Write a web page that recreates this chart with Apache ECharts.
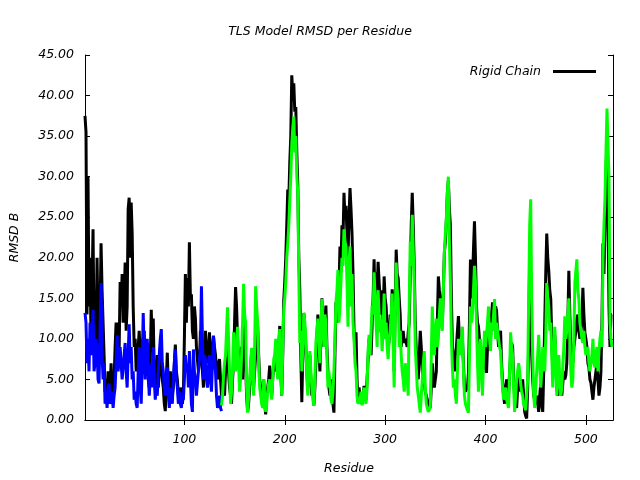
<!DOCTYPE html>
<html>
<head>
<meta charset="utf-8">
<script src="https://cdn.jsdelivr.net/npm/echarts@6/dist/echarts.min.js"></script>
<style>html,body{margin:0;padding:0;background:#fff}#c{width:640px;height:480px}</style>
</head>
<body>
<div id="c"></div>
<script>
// One value per residue
var blackStart = 1, blueStart = 1, greenStart = 137;
var xTicks = [100, 200, 300, 400, 500];

var rigidChain = [
37.5,35.5,13,30,14,20,10,16,23.5,11,
14,9,20,12,7,13,21.8,16,12,8,
3.5,5,2,6,3,4,7,2.5,3,5,
9,12,10,12,8.5,17,14,18,12,15,
19.4,11,14,26,27.4,20,26.8,23,14,9,
10,6,7,9,11,8,5,10,9.5,11,
6,9,9.5,5,4,7,13.6,9,12.5,6,
5,3,8,4,6,9,9,5,4,2,
1.1,5,8.3,4,3,6,6,3,4,7,
9.3,6,5,3,2,4,4,2,3,10,
18,12,17.5,14,21.9,15,15.5,11,10,14,
12.5,9,9,6,7,11,10.5,6,4,8,
11,8,7,9,10.8,8,6.7,9,10.3,9,
8,6,5,7,7.5,5,3,
5,4,3,6,8,9,6,4,3,2,
5,7,12,16.4,14,10,7,6,8,9,
5,12,10,7,3,1,2,4,6,8.5,
5,4,6,8,10,11.6,8,5,4,3,
2,5,2,0.7,3,4,5,6.7,4,3,
5,7,6,9,8,6,9,11.6,6,3,
8,14.7,17,20,24,28.4,27,31.7,35,42.5,
40,41.5,38,38.6,33,29,20,16,8,2.2,
8,13.2,11,9,6,4,7,8,5,3,
4,1.8,4,7,10,13,9,6,10,15,
11,9,12,14.1,9,6,4,3,3,5,
2,0.9,8,14.5,12,17.3,16,21.4,19,24,
22,28,25,26.4,23,20,25,28.6,26,23,
18,11,8,10.8,5,2.2,4,3,2.5,2,
3,4.2,3.5,2.5,5,7.5,10,9,8,11.6,
15,19.8,14,18.2,16,19.5,17,15,13,16,
12,17.7,15,14,11,8.5,10,13,11,16.1,
12,6,14,21,18,17.5,15,13,9,10.5,
11,9.5,10,10.2,9,10.8,12,18,24,28,
24,19,12,8.5,7,5,8,11,9,6,
5,4.5,3.5,3,2.5,2,2,1.5,4,7,
5,4,5,6,12,17.7,16,15,13,12,
16,20.6,22,24.5,28,29.5,26,24,15,9.3,
7,6,8,9,11,12.8,10,9.3,9,10,
7,4,3.5,3.3,4,5.8,12,19.8,15,17,
21,24.5,20,14,12,11.5,10,8.5,7,5.5,
7,9,8,5.8,9,12,11,10,13,14.5,
13,12,14,13.5,11,9,10,11,7,4.6,
3,2,4,5,3.5,3,6,8,9.5,9,
5,3,2,1.5,4,6,5,3.5,4,5,
3,1,0.5,0.2,4,9,20,13,8,5,
3,2.5,2,3,2,1,3,4.5,2,1,
6,12,18,23,20,18.4,16,14.9,10,6,
8,10.5,7,4,3,3.5,4,5,3,4.5,
6,5,5.5,7,12,18.4,13,9,8,7,
9,10,11,12.5,13,11,10,10,12,16.3,
13,10.8,10,9,7,6.5,5,4.6,3.5,2.5,
4,5,6,7,5,3,4,6,12,21.8,
18,23.9,30,35,25,14,9,13,13
];

var blueSegment = [
13.2,12,7,10,6,12,8,9,13.6,6,
7,10,9,5,4.5,11,16.9,8,5,7,
2,3,1.5,4,4.5,2,2.5,3.5,1.5,3,
4,7,10.4,6,6,9,9,5,5,8,
9.5,6,4,8,11.8,7,9,5,6,2.5,
3.5,2,1.5,6,9,4,2,7,13.2,8,
5,8,10,6,3,5,7,4,9,5,
2.5,4,3,6,8,10,11.2,7,6,4,
3,5,6.5,3,1.5,4,3,2,5,7,
8.7,5,4,2,3.5,2,1.5,3,2.5,5,
8,6,7,4,8.5,5,2,1,8.7,6,
5,3,3,6,6,9,16.5,10,5,8,
7.5,5,4,6,8,5,3.5,7,10.4,8,
6,3,1.5,2,3,1.5,1.1
];

var greenSegment = [
1.8,3,5.5,7,8,11,13.9,10,6,2,
3.5,6,10.8,8,6,9,11.5,7,3.5,5,
8,12,16.8,13,12,4,0.9,3,5,7,
8.9,5,3,9,16.5,14,12,7,4,3,
2,1.5,5,3,1,2,3.5,4.5,5,4,
2.5,5,7.5,8,10,7,5,9,11.2,6,
3,9,13.5,15,17,20,21.8,24,27,30,
34,36,37.4,33,35,30,28,18,9.5,11,
6,9,13.2,12,10,5,3,6,8.5,6,
4,2.5,1.8,5,9.5,11,12.5,10,7,11,
14.9,12,9,13,12,8,4,6,4.5,2.5,
2,3.5,6,10,14.5,16,18.5,12,14,17,
20,19,23.5,22,21.4,17,11.5,19,21.4,14,
18,12,10,7,6,3,2,2,2.5,3.5,
1.8,3,4,2.5,2,4,8.5,10.5,8,11,
14.1,13,18.2,15,12,9,16,13,10.8,12,
8.5,11,15.6,10,12,9,7.5,10,11,13,
15.6,9,4,12,19.4,16,15,9,11,8,
6,5,3.5,7,7,5,3,14,22,19,
25.3,21,17,9,6.5,4,3,2,0.9,3,
5,7,8.5,4,2,1.5,1,1.2,1.5,8,
14,10,8,11,12.5,9,10,13,15,12,
11,16,20.6,23,25,28,30,22,17,10,
6.5,4,5,3,2,6,10,9,8,10,
11.5,6,3,2,1.8,1.2,0.9,8,14,12,
13,16,19,17,12,7,3.5,8,10,6,
3,8,11,9,10.5,12,14,10,8.5,12,
11,13,14.9,10,12,11,10,9,8.5,6,
4,2.5,3,4,2.5,2,1.5,6,10.8,9,
8,4,1,3,5,6,7,6,4.5,3.5,
3,2,1.8,1.2,1,5,15,24,27.2,15,
8,3,1.5,4,6,8,10.5,7,4,6,
9,8,6,10,16.9,15,14,11,12,8,
4,7,11.5,8,3,5,8,5,3,4,
6.5,9,12.8,10,11,13,15,10,6,4,
5,10,16.9,17,19.8,16,14.9,12,11,10,
9.5,11,9,8,8,9,7,6,6,8,
10,7,6.5,8,9,6,8.5,10,11,9,
19.8,24,27.2,33,38.4,34,30,12,10,9
];

function pairs(arr, start) {
  return arr.map(function (v, i) { return [start + i, v]; });
}

var font = { fontFamily: 'DejaVu Sans', fontStyle: 'italic', fontSize: 12.5, color: '#000' };
var axisLineStyle = { show: true, lineStyle: { color: '#000', width: 1 } };

var chart = echarts.init(document.getElementById('c'), null, { renderer: 'canvas' });
chart.setOption({
  animation: false,
  backgroundColor: '#fff',
  title: {
    text: 'TLS Model RMSD per Residue',
    left: 'center',
    top: 20,
    textStyle: Object.assign({}, font, { fontWeight: 'normal' })
  },
  legend: {
    data: [{ name: 'Rigid Chain', icon: 'rect' }],
    right: 39,
    top: 60,
    align: 'right',
    itemWidth: 43,
    itemHeight: 3,
    textStyle: Object.assign({}, font, { padding: [0, 7, 0, 0] })
  },
  grid: { left: 85, right: 27, top: 55, bottom: 59, containLabel: false },
  xAxis: [{
    type: 'value', min: 1, max: 527, position: 'bottom',
    name: 'Residue', nameLocation: 'middle', nameGap: 42,
    nameTextStyle: font,
    axisLine: axisLineStyle,
    axisTick: { show: true, inside: true, length: 5, customValues: xTicks, lineStyle: { color: '#000' } },
    axisLabel: Object.assign({ customValues: xTicks, margin: 13 }, font),
    splitLine: { show: false }
  }, {
    type: 'value', min: 1, max: 527, position: 'top',
    axisLine: axisLineStyle,
    axisTick: { show: true, inside: true, length: 5, customValues: xTicks, lineStyle: { color: '#000' } },
    axisLabel: { show: false },
    splitLine: { show: false }
  }],
  yAxis: [{
    type: 'value', min: 0, max: 45, interval: 5, position: 'left',
    name: 'RMSD B', nameLocation: 'middle', nameGap: 64, nameRotate: 90,
    nameTextStyle: font,
    axisLine: axisLineStyle,
    axisTick: { show: true, inside: true, length: 5, lineStyle: { color: '#000' } },
    axisLabel: Object.assign({ margin: 11, formatter: function (v) { return v.toFixed(2); } }, font),
    splitLine: { show: false }
  }, {
    type: 'value', min: 0, max: 45, interval: 5, position: 'right',
    axisLine: axisLineStyle,
    axisTick: { show: true, inside: true, length: 5, lineStyle: { color: '#000' } },
    axisLabel: { show: false },
    splitLine: { show: false }
  }],
  series: [{
    name: 'Rigid Chain', type: 'line', xAxisIndex: 0, yAxisIndex: 0,
    data: pairs(rigidChain, blackStart),
    showSymbol: false, symbol: 'none',
    lineStyle: { color: '#000', width: 3 }, itemStyle: { color: '#000' }
  }, {
    name: 'Segment A', type: 'line', xAxisIndex: 0, yAxisIndex: 0,
    data: pairs(blueSegment, blueStart),
    showSymbol: false, symbol: 'none',
    lineStyle: { color: '#0000ff', width: 3 }, itemStyle: { color: '#0000ff' }
  }, {
    name: 'Segment B', type: 'line', xAxisIndex: 0, yAxisIndex: 0,
    data: pairs(greenSegment, greenStart),
    showSymbol: false, symbol: 'none',
    lineStyle: { color: '#00ff00', width: 3 }, itemStyle: { color: '#00ff00' }
  }]
});
</script>
</body>
</html>
